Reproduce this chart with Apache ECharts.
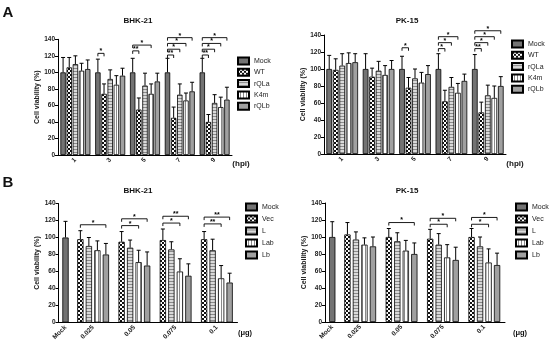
<!DOCTYPE html>
<html><head><meta charset="utf-8">
<script src="https://cdn.jsdelivr.net/npm/echarts@6/dist/echarts.min.js"></script>
<style>html,body{margin:0;padding:0;background:#fff}#c{width:550px;height:346px}</style>
</head><body><div id="c"></div>
<script>
// ---------- DATA ----------
const hpiCats = ['1','3','5','7','9'];
const doseCats = ['0.025','0.05','0.075','0.1'];
const mockCat = ['Mock'];
const namesA = ['Mock','WT','rQLa','K4m','rQLb'];
const namesB = ['Mock','Vec','L','Lab','Lb'];
const yTicks = [0,20,40,60,80,100,120,140];

// Panel A, BHK-21 (means and SD)
const aBhkMock = [100,100,100,100,100], aBhkMockSd = [18,16,17,17,17];
const aBhkWT   = [106,74,55,45,40],     aBhkWTSd   = [12,12,14,13,9];
const aBhkQLa  = [110,92,84,73,63],     aBhkQLaSd  = [10,11,15,13,10];
const aBhkK4m  = [102,85,74,66,58],     aBhkK4mSd  = [9,11,12,9,12];
const aBhkQLb  = [104,96,89,77,67],     aBhkQLbSd  = [11,9,10,11,15];
// Panel A, PK-15
const aPkMock = [100,100,100,100,100], aPkMockSd = [16,18,15,18,17];
const aPkWT   = [99,91,78,62,49],      aPkWTSd   = [13,10,12,13,12];
const aPkQLa  = [104,98,89,79,69],     aPkQLaSd  = [14,11,11,11,12];
const aPkK4m  = [107,93,84,72,66],     aPkK4mSd  = [12,11,12,11,14];
const aPkQLb  = [108,100,94,86,80],    aPkQLbSd  = [10,10,10,8,11];
// Panel B, BHK-21
const bBhkMock = [100], bBhkMockSd = [19];
const bBhkVec = [98,95,97,98], bBhkVecSd = [10,12,13,9];
const bBhkL   = [90,88,86,85], bBhkLSd   = [10,9,9,13];
const bBhkLab = [85,71,60,52], bBhkLabSd = [11,14,15,15];
const bBhkLb  = [80,67,55,47], bBhkLbSd  = [13,16,14,11];
// Panel B, PK-15
const bPkMock = [100], bPkMockSd = [18];
const bPkVec = [103,100,98,100], bPkVecSd = [14,10,11,10];
const bPkL   = [97,95,91,89],    bPkLSd   = [9,10,13,11];
const bPkLab = [91,84,76,70],    bPkLabSd = [8,12,15,16];
const bPkLb  = [89,80,73,67],    bPkLbSd  = [11,13,15,14];

// significance brackets: [category, fromBar, toBar, level, mark]
const aBhkSig = [[1,0,1,123,'*'],[2,0,1,126,'**'],[2,0,3,133,'*'],[3,0,1,121,'**'],[3,0,2,128,'*'],[3,0,3,135,'*'],[3,0,4,142,'*'],[4,0,1,121,'**'],[4,0,2,128,'*'],[4,0,3,135,'*'],[4,0,4,142,'*']];
const aPkSig = [[2,0,1,125,'*'],[3,0,1,124,'*'],[3,0,2,131,'*'],[3,0,3,138,'*'],[4,0,1,124,'**'],[4,0,2,131,'*'],[4,0,3,138,'*'],[4,0,4,145,'*']];
const bBhkSig = [[0,0,3,115,'*'],[1,0,2,114,'*'],[1,0,3,122,'*'],[2,0,2,117,'*'],[2,0,3,125,'**'],[3,0,2,116,'**'],[3,0,3,124,'**']];
const bPkSig = [[1,0,3,117,'*'],[2,0,2,115,'*'],[2,0,3,122,'*'],[3,0,2,115,'*'],[3,0,3,123,'*']];

// ---------- STYLES ----------
function pat(w,h,draw){const c=document.createElement('canvas');c.width=w;c.height=h;const g=c.getContext('2d');draw(g);return {image:c,repeat:'repeat'};}
const fillMock = '#737373';
const fillCheck = pat(4,4,g=>{g.fillStyle='#fff';g.fillRect(0,0,4,4);g.fillStyle='#111';g.fillRect(0,0,2,2);g.fillRect(2,2,2,2);});
const fillHoriz = pat(1,3,g=>{g.fillStyle='#dadada';g.fillRect(0,0,1,3);g.fillStyle='#8a8a8a';g.fillRect(0,2,1,1);});
const fillVert = pat(3,1,g=>{g.fillStyle='#fff';g.fillRect(0,0,3,1);g.fillStyle='#8a8a8a';g.fillRect(2,0,1,1);});
const fillLb = '#a0a0a0';
const fills = [fillMock, fillCheck, fillHoriz, fillVert, fillLb];
const FONT = 'Liberation Sans, Arial, sans-serif';

const grids = [], xAxes = [], yAxes = [], series = [];

function addGrid(g, cats, showY){
  const gi = grids.length;
  grids.push(Object.assign({containLabel:false}, g));
  xAxes.push({type:'category', gridIndex:gi, data:cats,
    axisLine:{lineStyle:{color:'#000',width:1}},
    axisTick:{alignWithLabel:true,length:3,lineStyle:{color:'#000'}},
    axisLabel:{rotate:45,fontSize:6.5,fontWeight:'bold',color:'#222',margin:4,fontFamily:FONT}});
  yAxes.push({type:'value', gridIndex:gi, min:yTicks[0], max:yTicks[yTicks.length-1], interval:20, show:showY,
    name:'Cell viability (%)', nameLocation:'middle', nameGap:17,
    nameTextStyle:{fontSize:7,fontWeight:'bold',color:'#222',fontFamily:FONT},
    axisLine:{show:true,lineStyle:{color:'#000',width:1}},
    axisTick:{show:true,length:3,lineStyle:{color:'#000'}},
    axisLabel:{fontSize:6.5,fontWeight:'bold',color:'#222',margin:3,fontFamily:FONT},
    splitLine:{show:false}});
  return gi;
}

function addBars(gi, names, vals, sds, fillIdx, bw, gapR, sig){
  const n = vals.length;
  const gap = bw*gapR, total = n*bw+(n-1)*gap;
  const offs = vals.map((_,i)=>-total/2 + i*(bw+gap) + bw/2);
  vals.forEach((v,i)=>{
    series.push({type:'bar', name:names[i], xAxisIndex:gi, yAxisIndex:gi, data:v,
      barWidth:bw, barGap:(gapR*100)+'%', silent:true,
      itemStyle:{color:fills[fillIdx[i]], borderColor:'#000', borderWidth:0.8}});
  });
  const errData = [];
  vals.forEach((v,i)=>v.forEach((m,c)=>errData.push([c,i,m,m+sds[i][c]])));
  series.push({type:'custom', xAxisIndex:gi, yAxisIndex:gi, silent:true, z:5,
    encode:{x:0,y:[2,3]}, data:errData,
    renderItem:(p,api)=>{
      const c=api.value(0), s=api.value(1);
      const b=api.coord([c,api.value(2)]), t=api.coord([c,api.value(3)]);
      const x=b[0]+offs[s];
      return {type:'group',children:[
        {type:'line',shape:{x1:x,y1:b[1],x2:x,y2:t[1]},style:{stroke:'#000',lineWidth:1}},
        {type:'line',shape:{x1:x-2,y1:t[1],x2:x+2,y2:t[1]},style:{stroke:'#000',lineWidth:1}}]};
    }});
  if(sig){
    series.push({type:'custom', xAxisIndex:gi, yAxisIndex:gi, silent:true, z:6, clip:false,
      encode:{x:0,y:3}, data:sig.map(r=>[r[0],r[1],r[2],r[3]]),
      renderItem:(p,api)=>{
        const r=sig[p.dataIndex];
        const pt=api.coord([r[0],r[3]]);
        const x1=pt[0]+offs[r[1]], x2=pt[0]+offs[r[2]], y=pt[1];
        return {type:'group',children:[
          {type:'polyline',shape:{points:[[x1,y+3],[x1,y],[x2,y],[x2,y+3]]},style:{stroke:'#000',lineWidth:0.9,fill:null}},
          {type:'text',x:(x1+x2)/2,y:y+1.5,style:{text:r[4],font:'bold 7px '+FONT,fill:'#000',align:'center',verticalAlign:'bottom'}}]};
      }});
  }
}

// Panel A BHK-21
let g = addGrid({left:58,top:39.3,width:174,height:115.7}, hpiCats, true);
addBars(g, namesA, [aBhkMock,aBhkWT,aBhkQLa,aBhkK4m,aBhkQLb], [aBhkMockSd,aBhkWTSd,aBhkQLaSd,aBhkK4mSd,aBhkQLbSd], [0,1,2,3,4], 5.4, 0.14, aBhkSig);
// Panel A PK-15
g = addGrid({left:324,top:35,width:182,height:119}, hpiCats, true);
addBars(g, namesA, [aPkMock,aPkWT,aPkQLa,aPkK4m,aPkQLb], [aPkMockSd,aPkWTSd,aPkQLaSd,aPkK4mSd,aPkQLbSd], [0,1,2,3,4], 5.7, 0.14, aPkSig);
// Panel B BHK-21
g = addGrid({left:58.5,top:203.5,width:14,height:119}, mockCat, true);
addBars(g, ['Mock'], [bBhkMock], [bBhkMockSd], [0], 6.3, 0.4, null);
g = addGrid({left:72.5,top:203.5,width:165,height:119}, doseCats, false);
addBars(g, namesB.slice(1), [bBhkVec,bBhkL,bBhkLab,bBhkLb], [bBhkVecSd,bBhkLSd,bBhkLabSd,bBhkLbSd], [1,2,3,4], 6.3, 0.35, bBhkSig);
// Panel B PK-15
g = addGrid({left:325,top:203,width:14.5,height:119}, mockCat, true);
addBars(g, ['Mock'], [bPkMock], [bPkMockSd], [0], 6.3, 0.4, null);
g = addGrid({left:339.5,top:203,width:165.5,height:119}, doseCats, false);
addBars(g, namesB.slice(1), [bPkVec,bPkL,bPkLab,bPkLb], [bPkVecSd,bPkLSd,bPkLabSd,bPkLbSd], [1,2,3,4], 6.3, 0.35, bPkSig);

function leg(left, top, names, gap){
  return {orient:'vertical', left, top, data:names, itemWidth:11, itemHeight:7, itemGap:gap, padding:0,
    selectedMode:false, icon:'rect', textStyle:{fontSize:7,color:'#222',fontFamily:FONT}};
}
function txt(x,y,t,font){return {type:'text',x,y,silent:true,style:{text:t,font:font,fill:'#111',align:'center',verticalAlign:'middle'}};}

const option = {
  animation:false, backgroundColor:'#fff',
  grid:grids, xAxis:xAxes, yAxis:yAxes, series,
  legend:[leg(237,56.5,namesA,2.3), leg(511,39.5,namesA,2.3), leg(245,202.5,namesB,3), leg(515,202.5,namesB,3)],
  graphic:[
    txt(8,13,'A','bold 15px '+FONT), txt(8,183,'B','bold 15px '+FONT),
    txt(138,21,'BHK-21','bold 8px '+FONT), txt(407,21,'PK-15','bold 8px '+FONT),
    txt(138,191,'BHK-21','bold 8px '+FONT), txt(407,191,'PK-15','bold 8px '+FONT),
    txt(241,164,'(hpi)','bold 8px '+FONT), txt(515,164,'(hpi)','bold 8px '+FONT),
    txt(245,333,'(μg)','bold 7.5px '+FONT), txt(520,333,'(μg)','bold 7.5px '+FONT)
  ]
};
const chart = echarts.init(document.getElementById('c'), null, {renderer:'canvas'});
chart.setOption(option);
</script></body></html>
